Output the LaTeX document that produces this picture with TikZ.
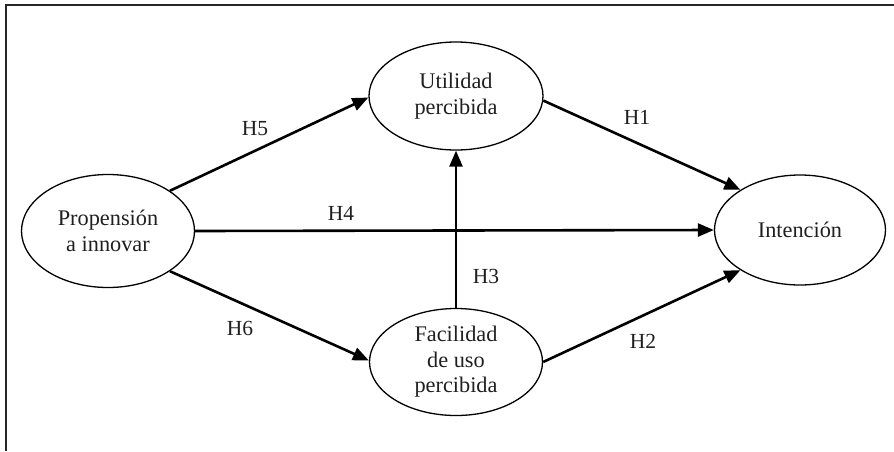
\documentclass[tikz,border=0pt]{standalone}
\usepackage{fontspec}
\setmainfont{Liberation Serif}
\usetikzlibrary{shapes.geometric,arrows.meta}
\begin{document}
\begin{tikzpicture}[x=1pt,y=-1pt,
  construct/.style={ellipse,draw,line width=1.3pt,inner sep=0pt,align=center,
    font=\fontsize{22.3}{25.5}\selectfont,text=black!88},
  hyp/.style={font=\fontsize{21.5}{25}\selectfont,text=black!88,inner sep=0pt},
  link/.style={line width=2.6pt,-{Triangle[length=16pt,width=13pt]},shorten <=0pt}]
\useasboundingbox (0,0) rectangle (894,451);
\draw[line width=1.6pt,black!85] (894,5) -- (6,5) -- (6,451);
\node[construct,minimum width=173pt,minimum height=113pt] (prop) at (108,231) {Propensión\\a innovar};
\node[construct,minimum width=174pt,minimum height=108pt] (util) at (456,96) {Utilidad\\percibida};
\node[construct,minimum width=173pt,minimum height=107pt] (fac) at (456,362) {Facilidad\\de uso\\percibida};
\node[construct,minimum width=171pt,minimum height=110pt] (int) at (800,230) {Intención};
\draw[link] (prop.33) -- (util.181);
\draw[link] (prop.east) -- (int.west);
\draw[link] (prop.-33) -- (fac.179);
\draw[link] (fac.north) -- (util.south);
\draw[link] (util.-3) -- (int.146);
\draw[link] (fac.east) -- (int.214);
\node[hyp] (h5) at (255,129) {H5};
\node[hyp] (h1) at (637,117) {H1};
\node[hyp] (h4) at (341,213) {H4};
\node[hyp] (h3) at (486,276) {H3};
\node[hyp] (h6) at (240,328) {H6};
\node[hyp] (h2) at (643,341) {H2};
\end{tikzpicture}
\end{document}
